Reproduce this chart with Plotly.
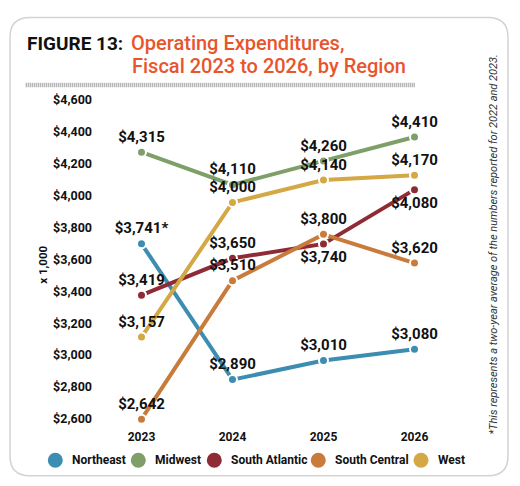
import plotly.graph_objects as go

# data (x 1,000 dollars)
years = [2023, 2024, 2025, 2026]
regions = ['Northeast', 'Midwest', 'South Atlantic', 'South Central', 'West']
northeast = [3741, 2890, 3010, 3080]
midwest = [4315, 4110, 4260, 4410]
south_atlantic = [3419, 3650, 3740, 4080]
south_central = [2642, 3510, 3800, 3620]
west = [3157, 4000, 4140, 4170]
y_ticks = [2600, 2800, 3000, 3200, 3400, 3600, 3800, 4000, 4200, 4400, 4600]

colors = ['#3b8db1', '#7f9f69', '#8f2b34', '#c97b3b', '#d3a845']
series = [northeast, midwest, south_atlantic, south_central, west]
# label placement per point
label_pos = [
    ['top center'] * 4,
    ['top center'] * 4,
    ['top center', 'top center', 'bottom center', 'bottom center'],
    ['top center'] * 4,
    ['top center'] * 4,
]

W, H = 520, 486


def px(x):
    return x / W


def py(y):
    return 1 - y / H


fig = go.Figure()

for name, vals, col, pos in zip(regions, series, colors, label_pos):
    labels = ['${:,}'.format(v) for v in vals]
    if name == 'Northeast':
        labels[0] += '*'  # two-year average
    fig.add_trace(go.Scatter(
        x=years, y=vals, name=name, mode='lines+markers+text',
        line=dict(color=col, width=4),
        marker=dict(size=9, color=col, line=dict(color='white', width=2)),
        text=labels, textposition=pos,
        textfont=dict(family='Roboto', size=15, color='#111', weight='bold'),
        showlegend=False, hoverinfo='skip'))

# plot area in pixels
x_left, x_right = 96, 460
y_lo, y_hi = 2585, 4660
scale = 322.6 / 2000
y_bot = 425.3 + (2600 - y_lo) * scale
y_top = 102.7 - (y_hi - 4600) * scale

fig.update_xaxes(
    domain=[px(x_left), px(x_right)], range=[2022.5, 2026.5],
    tickvals=years, ticktext=[str(y) for y in years],
    showgrid=False, zeroline=False, showline=False,
    tickfont=dict(family='Roboto', size=12, color='#111', weight='bold'))
fig.update_yaxes(
    domain=[py(y_bot), py(y_top)], range=[y_lo, y_hi],
    tickvals=y_ticks, ticktext=['${:,}'.format(t) for t in y_ticks],
    ticklabelshift=-7, ticklabelstandoff=3,
    showgrid=False, zeroline=False, showline=False,
    tickfont=dict(family='Roboto', size=12.5, color='#111', weight='bold'))

# card border
r = 20
x0, x1, y0, y1 = 10, 508, 12.7, 475.7
path = ('M {a},{b} L {c},{b} Q {d},{b} {d},{e} L {d},{f} Q {d},{g} {c},{g} '
        'L {a},{g} Q {h},{g} {h},{f} L {h},{e} Q {h},{b} {a},{b} Z').format(
    a=px(x0 + r), b=py(y0), c=px(x1 - r), d=px(x1), e=py(y0 + r),
    f=py(y1 - r), g=py(y1), h=px(x0))
fig.add_shape(type='path', path=path, xref='paper', yref='paper',
              line=dict(color='#d3d3d3', width=1.5), layer='below')

# hatched rule under title
fig.add_shape(type='line', xref='paper', yref='paper',
              x0=px(25.7), x1=px(415), y0=py(80.8), y1=py(80.8),
              line=dict(color='#9a9a9a', width=4.5, dash='1px,1px'))

title_font = dict(family='Roboto', size=20)
fig.add_annotation(text='FIGURE 13:', x=px(24.5), y=py(38.5), xref='paper', yref='paper',
                   xanchor='left', yanchor='middle', showarrow=False,
                   font=dict(family='Roboto', size=19, color='#111', weight='bold'))
fig.add_annotation(text='Operating Expenditures,', x=px(129), y=py(38.5),
                   xref='paper', yref='paper', xanchor='left', yanchor='middle',
                   showarrow=False, font=dict(title_font, color='#e8552c', weight=500))
fig.add_annotation(text='Fiscal 2023 to 2026, by Region', x=px(130), y=py(61.5),
                   xref='paper', yref='paper', xanchor='left', yanchor='middle',
                   showarrow=False, font=dict(title_font, color='#e8552c', weight=500))

fig.add_annotation(text='x 1,000', x=px(43.5), y=py(263), xref='paper', yref='paper',
                   xanchor='center', yanchor='middle', textangle=-90, showarrow=False,
                   font=dict(family='Roboto', size=11.5, color='#111', weight='bold'))
fig.add_annotation(
    text='*This represents a two-year average of the numbers reported for 2022 and 2023.',
    x=px(494), y=py(242), xref='paper', yref='paper', xanchor='center', yanchor='middle',
    textangle=-90, showarrow=False,
    font=dict(family='Roboto', size=11, color='#333', style='italic'))

# legend: dot + label per region
legend_x = [55.3, 138.3, 214.3, 318.3, 421]
legend_y = 460
for name, col, lx in zip(regions, colors, legend_x):
    fig.add_shape(type='circle', xref='paper', yref='paper',
                  xsizemode='pixel', ysizemode='pixel',
                  xanchor=px(lx), yanchor=py(legend_y),
                  x0=-7.5, x1=7.5, y0=-7.5, y1=7.5,
                  fillcolor=col, line=dict(width=0))
    fig.add_annotation(text=name, x=px(lx + 15), y=py(legend_y), xref='paper', yref='paper',
                       xanchor='left', yanchor='middle', showarrow=False,
                       font=dict(family='Roboto', size=12, color='#111', weight='bold'))

fig.update_layout(
    width=W, height=H,
    margin=dict(l=0, r=0, t=0, b=0),
    paper_bgcolor='white', plot_bgcolor='white',
    showlegend=False,
)

fig.write_html('out.html', config={'displayModeBar': False},
               post_script="document.body.style.margin='0';")
